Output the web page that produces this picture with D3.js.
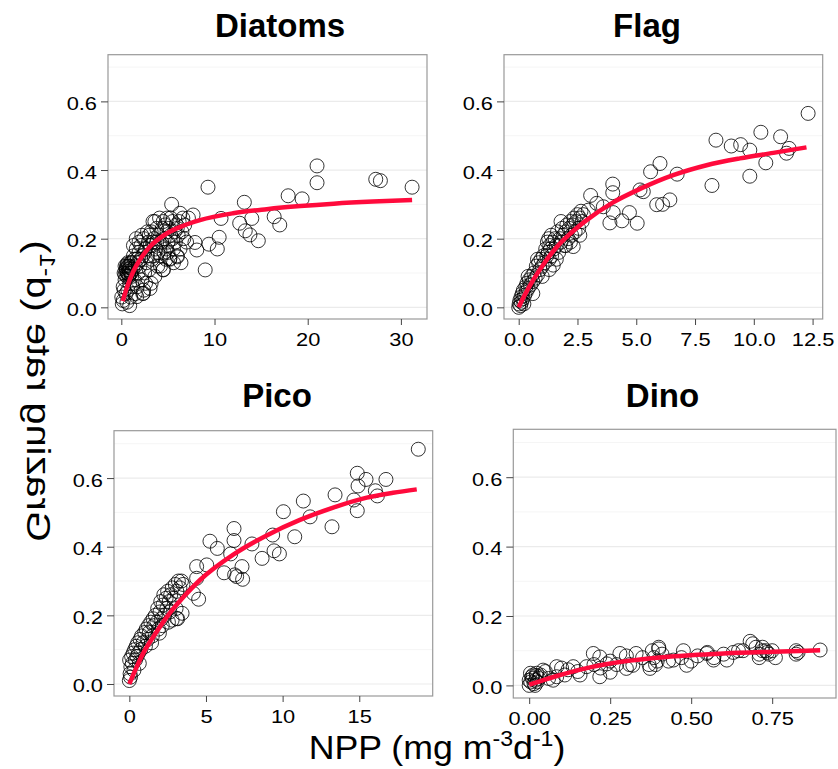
<!DOCTYPE html>
<html>
<head>
<meta charset="utf-8">
<script src="https://cdn.jsdelivr.net/npm/d3@7/dist/d3.min.js"></script>
<style>
  html, body { margin: 0; padding: 0; background: #fff; }
  svg { display: block; font-family: "Liberation Sans", Arial, sans-serif; }
</style>
</head>
<body>
<svg id="chart" width="838" height="769"></svg>
<script>
// ---- Panels ----
const panelNames = ["Diatoms", "Flag", "Pico", "Dino"];

// ---- Shared y axis ticks ----
const yMajorTicks = [0, 0.2, 0.4, 0.6];
const yMajorLabels = ["0.0", "0.2", "0.4", "0.6"];
const yMinorTicks = [0.1, 0.3, 0.5, 0.7];

// ---- x axis ticks per panel ----
const diatomsXTicks = [0, 10, 20, 30];
const diatomsXLabels = ["0", "10", "20", "30"];
const flagXTicks = [0, 2.5, 5, 7.5, 10, 12.5];
const flagXLabels = ["0.0", "2.5", "5.0", "7.5", "10.0", "12.5"];
const picoXTicks = [0, 5, 10, 15];
const picoXLabels = ["0", "5", "10", "15"];
const dinoXTicks = [0, 0.25, 0.5, 0.75];
const dinoXLabels = ["0.00", "0.25", "0.50", "0.75"];

// ---- Observations: NPP (mg m-3 d-1) and grazing rate (d-1) ----
const diatomsNPP = [
  0.1,0.2,0.05,0.9,0.6,0.3,0.5,0.2,0.4,0.3,0.5,0.6,0.7,0.8,0.4,0.6,0.9,0.7,0.5,0.8,1.0,0.9,0.7,1.0,
  0.4,0.55,0.65,0.75,0.85,0.95,1.05,0.6,0.8,1.0,
  1.1,1.2,1.3,1.4,1.5,1.6,1.7,1.8,1.9,1.2,1.5,1.7,1.3,1.9,1.1,1.6,1.4,1.8,
  2.0,2.1,2.2,2.3,2.4,2.5,2.6,2.7,2.8,2.9,2.2,2.4,2.6,2.8,2.1,2.5,3.0,2.3,
  3.1,3.2,3.3,3.4,3.5,3.6,3.7,3.8,3.9,3.2,3.5,3.8,3.4,3.0,3.6,3.9,
  4.0,4.1,4.2,4.3,4.4,4.5,4.6,4.7,4.8,4.9,4.2,4.5,4.8,4.1,4.6,4.9,
  5.0,5.1,5.2,5.3,5.4,5.5,5.6,5.7,5.8,5.9,5.3,5.6,5.0,5.5,
  6.0,6.1,6.2,6.3,6.5,6.6,6.8,7.0,7.2,6.4,6.0,6.7,
  21.0,21.0,9.3,27.3,27.8,31.2,17.9,19.4,13.2,10.7,14.0,16.4,12.7,17.0,13.3,13.8,14.7,7.9,8.1,9.4,10.5,10.3,9.0,7.7,6.3,
  1.65,2.37,3.08,4.5,5.2,6.0
];
const diatomsGrazing = [
  0.01,0.02,0.03,0.005,0.015,0.05,0.04,0.06,0.08,0.10,0.11,0.12,0.10,0.11,0.12,0.09,0.12,0.13,0.105,0.095,0.10,0.07,0.05,0.03,
  0.095,0.115,0.10,0.12,0.105,0.115,0.10,0.125,0.09,0.13,
  0.13,0.11,0.15,0.08,0.12,0.17,0.14,0.10,0.19,0.06,0.04,0.06,0.18,0.16,0.09,0.20,0.14,0.13,
  0.12,0.18,0.08,0.15,0.20,0.10,0.17,0.13,0.22,0.19,0.21,0.05,0.07,0.15,0.14,0.16,0.11,0.04,
  0.18,0.22,0.14,0.25,0.20,0.09,0.17,0.23,0.12,0.07,0.15,0.19,0.19,0.21,0.25,0.16,
  0.21,0.26,0.15,0.19,0.23,0.11,0.20,0.24,0.17,0.22,0.12,0.25,0.14,0.18,0.16,0.26,
  0.19,0.23,0.14,0.21,0.30,0.25,0.17,0.22,0.19,0.24,0.26,0.13,0.16,0.20,
  0.15,0.21,0.25,0.17,0.22,0.26,0.24,0.19,0.26,0.13,0.23,0.20,
  0.412,0.363,0.350,0.373,0.369,0.350,0.325,0.316,0.306,0.259,0.259,0.264,0.245,0.240,0.223,0.211,0.194,0.189,0.167,0.184,0.204,0.170,0.109,0.269,0.274,
  0.031,0.041,0.055,0.109,0.142,0.147
];

const flagNPP = [
  0.0,0.02,0.05,0.08,0.1,0.12,0.15,0.18,0.2,0.22,0.25,0.3,0.32,0.35,0.4,0.45,0.5,0.55,0.6,0.65,0.7,0.75,0.8,0.85,0.9,0.95,
  1.0,1.05,1.1,1.15,1.2,1.22,1.25,1.28,1.3,1.32,1.35,1.38,1.4,1.45,1.47,1.5,1.55,1.6,1.65,1.7,1.75,1.8,1.85,1.9,1.95,
  2.0,2.05,2.1,2.15,2.2,2.25,2.32,2.3,2.35,2.4,2.45,2.5,2.55,2.6,2.65,2.7,2.75,
  1.0,0.8,1.8,2.2,1.3,0.6,0.4,2.0,1.6,2.6,
  12.31,10.3,11.14,8.39,9.04,9.44,9.83,11.5,11.39,10.51,9.83,8.22,6.74,6.01,5.61,5.16,5.3,5.87,6.12,6.43,
  4.0,4.0,4.02,3.88,4.39,4.71,5.04,3.06,3.32,3.6,2.96
];
const flagGrazing = [
  0.0,0.01,0.02,0.005,0.03,0.015,0.04,0.025,0.05,0.01,0.035,0.06,0.045,0.07,0.055,0.08,0.065,0.09,0.075,0.10,0.085,0.12,0.095,0.13,0.11,0.14,
  0.12,0.15,0.13,0.17,0.15,0.19,0.16,0.20,0.14,0.18,0.17,0.21,0.15,0.19,0.123,0.17,0.20,0.18,0.22,0.16,0.20,0.19,0.23,0.21,0.18,
  0.22,0.24,0.20,0.23,0.25,0.21,0.177,0.24,0.26,0.22,0.25,0.27,0.23,0.26,0.28,0.25,0.27,
  0.09,0.14,0.25,0.19,0.11,0.04,0.09,0.18,0.14,0.21,
  0.565,0.510,0.497,0.487,0.470,0.474,0.458,0.463,0.449,0.421,0.382,0.355,0.388,0.419,0.395,0.342,0.337,0.299,0.300,0.313,
  0.359,0.334,0.276,0.246,0.252,0.276,0.245,0.326,0.303,0.293,0.283
];

const picoNPP = [
  0.0,0.05,0.1,0.02,0.15,0.08,0.2,0.25,0.3,0.35,0.4,0.45,0.5,0.55,0.6,0.7,0.75,0.8,0.9,1.0,1.05,1.1,1.2,1.25,1.3,1.4,1.5,1.55,1.6,1.7,1.8,1.85,1.9,1.96,
  2.0,2.05,2.1,2.2,2.25,2.3,2.4,2.45,2.5,2.6,2.65,2.7,2.79,2.8,2.9,3.0,3.05,3.1,3.2,3.3,3.4,3.5,2.15,1.45,0.65,2.55,3.15,
  18.85,14.87,15.44,16.74,14.92,16.05,16.18,14.65,14.87,13.42,13.22,11.35,11.79,10.79,10.05,9.35,9.44,9.79,8.66,8.0,
  6.83,6.83,5.26,5.74,6.61,5.05,4.39,6.18,6.87,7.35,7.39,7.0,4.39,4.18,4.52,3.44,3.09
];
const picoGrazing = [
  0.01,0.03,0.05,0.07,0.08,0.02,0.06,0.09,0.04,0.10,0.07,0.11,0.08,0.12,0.09,0.13,0.10,0.14,0.12,0.15,0.11,0.16,0.13,0.17,0.15,0.18,0.14,0.19,0.17,0.20,0.18,0.22,0.16,0.148,
  0.21,0.24,0.19,0.23,0.26,0.20,0.25,0.22,0.27,0.24,0.21,0.26,0.186,0.28,0.25,0.29,0.22,0.27,0.30,0.28,0.30,0.29,0.17,0.12,0.06,0.18,0.19,
  0.684,0.614,0.596,0.596,0.577,0.563,0.548,0.536,0.505,0.551,0.458,0.533,0.487,0.429,0.502,0.434,0.388,0.379,0.366,0.408,
  0.453,0.418,0.416,0.395,0.379,0.347,0.342,0.324,0.318,0.342,0.305,0.313,0.308,0.264,0.247,0.206,0.191
];

const dinoNPP = [
  0.0,0.005,0.01,0.015,0.02,0.008,0.025,0.03,0.012,0.0,0.018,0.035,0.004,0.022,
  0.05,0.06,0.1,0.11,0.12,0.15,0.2,0.22,0.25,0.27,0.3,0.31,0.35,0.37,0.38,0.4,0.41,0.43,0.47,0.5,0.52,0.55,0.57,0.6,0.63,0.66,0.69,0.7,0.72,0.74,0.75,0.76,0.83,
  0.898,0.824,0.824,0.682,0.71,0.72,0.73,0.71,0.735,0.646,0.61,0.548,0.569,0.476,0.486,0.445,0.39,0.40,0.385,0.395,0.373,0.33,0.32,0.28,0.30,0.25,0.24,0.218,0.198,0.218,0.177,0.157,0.136,0.085,0.074,0.085,0.043,0.023,0.033
];
const dinoGrazing = [
  0.0,0.01,0.02,0.005,0.015,0.025,0.01,0.02,0.03,0.015,0.0,0.03,0.035,0.028,
  0.04,0.02,0.05,0.03,0.045,0.04,0.06,0.05,0.07,0.06,0.085,0.06,0.08,0.06,0.10,0.105,0.09,0.07,0.08,0.07,0.085,0.095,0.08,0.09,0.095,0.10,0.12,0.11,0.10,0.09,0.10,0.08,0.095,
  0.102,0.10,0.09,0.127,0.08,0.11,0.10,0.09,0.095,0.10,0.073,0.092,0.073,0.10,0.058,0.073,0.06,0.11,0.08,0.07,0.049,0.092,0.058,0.092,0.049,0.038,0.062,0.082,0.092,0.025,0.054,0.03,0.054,0.054,0.015,0.025,0.044,0.035,0.025
];

// ---- Fitted saturation curves ----
const diatomsFitNPP = [0.15, 0.6, 1.29, 2.0, 3.08, 4.87, 6.5, 8.44, 11.99, 15.6, 19.2, 22.8, 27.0, 31.2];
const diatomsFitGrazing = [0.018, 0.058, 0.105, 0.139, 0.177, 0.215, 0.236, 0.254, 0.274, 0.286, 0.295, 0.302, 0.308, 0.3125];
const flagFitNPP = [0.0, 0.25, 0.62, 1.1, 1.61, 2.2, 2.89, 4.0, 5.16, 6.57, 7.99, 9.41, 10.83, 12.24];
const flagFitGrazing = [0.0, 0.035, 0.08, 0.13, 0.175, 0.215, 0.254, 0.305, 0.345, 0.385, 0.414, 0.434, 0.45, 0.466];
const picoFitNPP = [0.0, 0.4, 0.91, 1.6, 2.44, 3.5, 4.61, 6.78, 8.96, 11.13, 13.3, 15.49, 17.2, 18.75];
const picoFitGrazing = [0.0, 0.042, 0.09, 0.14, 0.195, 0.252, 0.303, 0.377, 0.433, 0.478, 0.514, 0.543, 0.557, 0.567];
const dinoFitNPP = [0.0, 0.04, 0.085, 0.188, 0.29, 0.394, 0.497, 0.6, 0.754, 0.898];
const dinoFitGrazing = [0.002, 0.014, 0.027, 0.052, 0.069, 0.08, 0.087, 0.092, 0.097, 0.101];

// ---- Panel boxes ----
const panels = [
  { name: panelNames[0], box: [108, 54.7, 427, 319], xDomain: [-1.43, 32.8], yDomain: [-0.034, 0.736],
    xs: diatomsNPP, ys: diatomsGrazing, fx: diatomsFitNPP, fy: diatomsFitGrazing,
    xTicks: diatomsXTicks, xLabels: diatomsXLabels, title: [280, 37] },
  { name: panelNames[1], box: [504, 54.7, 822.7, 319], xDomain: [-0.625, 12.93], yDomain: [-0.034, 0.736],
    xs: flagNPP, ys: flagGrazing, fx: flagFitNPP, fy: flagFitGrazing,
    xTicks: flagXTicks, xLabels: flagXLabels, title: [647, 37] },
  { name: panelNames[2], box: [114, 430.7, 432.7, 696], xDomain: [-1.0, 19.79], yDomain: [-0.035, 0.738],
    xs: picoNPP, ys: picoGrazing, fx: picoFitNPP, fy: picoFitGrazing,
    xTicks: picoXTicks, xLabels: picoXLabels, title: [277, 407] },
  { name: panelNames[3], box: [513.3, 429.3, 836, 698], xDomain: [-0.049, 0.947], yDomain: [-0.0363, 0.738],
    xs: dinoNPP, ys: dinoGrazing, fx: dinoFitNPP, fy: dinoFitGrazing,
    xTicks: dinoXTicks, xLabels: dinoXLabels, title: [662.5, 407] }
];

const svg = d3.select("#chart");
svg.append("rect").attr("width", 838).attr("height", 769).attr("fill", "#fff");

const TICK_SX = 1.15;

panels.forEach(p => {
  const [L, T, R, B] = p.box;
  const x = d3.scaleLinear().domain(p.xDomain).range([L, R]);
  const y = d3.scaleLinear().domain(p.yDomain).range([B, T]);
  const g = svg.append("g");

  // grid
  g.selectAll("line.minor").data(yMinorTicks).join("line")
    .attr("x1", L).attr("x2", R).attr("y1", d => y(d)).attr("y2", d => y(d))
    .attr("stroke", "#f5f5f5").attr("stroke-width", 1);
  g.selectAll("line.major").data(yMajorTicks).join("line")
    .attr("x1", L).attr("x2", R).attr("y1", d => y(d)).attr("y2", d => y(d))
    .attr("stroke", "#ebebeb").attr("stroke-width", 1.2);

  // observations
  const pts = p.xs.map((v, i) => [v, p.ys[i]]);
  g.append("g").selectAll("circle").data(pts).join("circle")
    .attr("cx", d => x(d[0])).attr("cy", d => y(d[1])).attr("r", 7)
    .attr("fill", "none").attr("stroke", "#000").attr("stroke-width", 0.8);

  // fitted curve
  const fit = p.fx.map((v, i) => [v, p.fy[i]]);
  g.append("path").datum(fit)
    .attr("d", d3.line().x(d => x(d[0])).y(d => y(d[1])).curve(d3.curveMonotoneX))
    .attr("fill", "none").attr("stroke", "#ff0a3c").attr("stroke-width", 4.5);

  // panel border
  g.append("rect").attr("x", L).attr("y", T).attr("width", R - L).attr("height", B - T)
    .attr("fill", "none").attr("stroke", "#999").attr("stroke-width", 1.2);

  // y axis
  const ya = g.append("g").attr("transform", `translate(${L},0)`)
    .call(d3.axisLeft(y).tickValues(yMajorTicks).tickFormat((d, i) => yMajorLabels[i]).tickSize(7).tickPadding(3));
  ya.select(".domain").remove();
  ya.selectAll("line").attr("stroke", "#444");
  ya.selectAll("text").attr("font-size", 19).attr("fill", "#000")
    .attr("font-family", "Liberation Sans, Arial, sans-serif")
    .attr("x", -11 / TICK_SX).attr("dy", "0.42em")
    .attr("transform", `scale(${TICK_SX},1)`);

  // x axis
  const xa = g.append("g").attr("transform", `translate(0,${B})`)
    .call(d3.axisBottom(x).tickValues(p.xTicks).tickFormat((d, i) => p.xLabels[i]).tickSize(6).tickPadding(8));
  xa.select(".domain").remove();
  xa.selectAll("line").attr("stroke", "#444");
  xa.selectAll("text").attr("font-size", 19).attr("fill", "#000")
    .attr("font-family", "Liberation Sans, Arial, sans-serif")
    .attr("transform", `scale(${TICK_SX},1)`);

  // panel title
  svg.append("text").attr("x", p.title[0]).attr("y", p.title[1])
    .attr("text-anchor", "middle").attr("font-weight", "bold").attr("font-size", 33)
    .text(p.name);
});

// x axis title
const xt = svg.append("text").attr("text-anchor", "middle")
  .attr("transform", "translate(437,759) scale(1.05,1)")
  .attr("font-size", 34).attr("fill", "#000");
xt.append("tspan").text("NPP (mg m");
xt.append("tspan").attr("font-size", 22).attr("dy", -13).text("-3");
xt.append("tspan").attr("dy", 13).text("d");
xt.append("tspan").attr("font-size", 22).attr("dy", -13).text("-1");
xt.append("tspan").attr("dy", 13).text(")");

// y axis title (mirrored), stretched along its length
const yt = svg.append("text").attr("text-anchor", "middle")
  .attr("transform", "translate(27,391) scale(-1,1) rotate(-90) scale(1.17,1)")
  .attr("font-size", 34).attr("fill", "#000");
yt.append("tspan").text("Grazing rate (d");
yt.append("tspan").attr("font-size", 22).attr("dy", -13).text("-1");
yt.append("tspan").attr("dy", 13).text(")");
</script>
</body>
</html>
